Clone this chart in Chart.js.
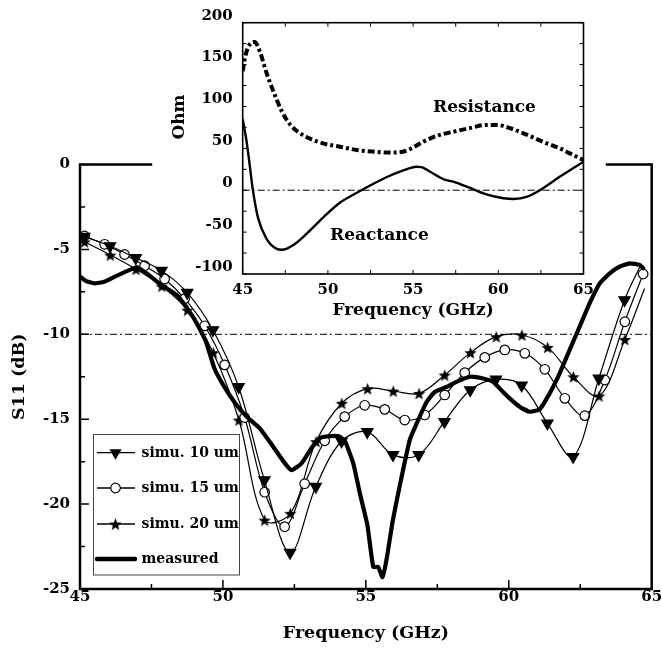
<!DOCTYPE html>
<html><head><meta charset="utf-8">
<script src="https://cdn.jsdelivr.net/npm/chart.js@4.4.1/dist/chart.umd.min.js"></script>
<style>
html,body{margin:0;padding:0;background:#fff;}
#wrap{position:relative;width:662px;height:650px;}
.layer{position:absolute;left:0;top:0;width:662px;height:650px;}
</style></head><body>
<div id="wrap">
<div class="layer"><canvas id="main" width="662" height="650"></canvas></div>
<div class="layer"><canvas id="inset" width="662" height="650"></canvas></div>
</div>
<script>
// ---------------- main chart data (S11, dB) ----------------
const freq10 = [45.15,46.05,46.95,47.85,48.75,49.65,50.55,51.45,52.35,53.25,54.15,55.05,55.95,56.85,57.75,58.65,59.55,60.45,61.35,62.25,63.15,64.05,64.62];
const s11_10 = [-4.25,-4.8,-5.5,-6.25,-7.55,-9.75,-13.1,-18.58,-22.86,-18.97,-16.3,-15.75,-17.1,-17.1,-15.15,-13.28,-12.65,-13.0,-15.24,-17.21,-12.6,-7.98,-5.9];
const freq15 = [45.16,45.86,46.56,47.26,47.96,48.66,49.36,50.06,50.76,51.46,52.16,52.86,53.56,54.26,54.96,55.66,56.36,57.06,57.76,58.46,59.16,59.86,60.56,61.26,61.96,62.66,63.36,64.06,64.7];
const s11_15 = [-4.21,-4.7,-5.3,-5.96,-6.74,-7.9,-9.5,-11.8,-14.9,-19.3,-21.33,-18.8,-16.27,-14.85,-14.18,-14.42,-15.05,-14.75,-13.57,-12.26,-11.36,-10.92,-11.12,-12.06,-13.77,-14.79,-12.69,-9.26,-6.45];
const freq20 = [45.16,46.06,46.96,47.86,48.76,49.66,50.56,51.46,52.36,53.26,54.16,55.06,55.96,56.86,57.76,58.66,59.56,60.46,61.36,62.26,63.16,64.06,64.75];
const s11_20 = [-4.55,-5.33,-6.17,-7.16,-8.57,-11.08,-15.05,-20.94,-20.54,-16.32,-14.06,-13.2,-13.34,-13.48,-12.4,-11.08,-10.14,-10.04,-10.77,-12.5,-13.63,-10.3,-7.3];
const freqMeas = [45.0,45.2,45.5,45.85,46.2,46.55,47.0,47.4,47.85,48.4,49.0,49.4,49.7,50.05,50.45,50.83,51.29,51.76,52.17,52.4,52.75,53.1,53.4,53.75,54.05,54.27,54.56,54.79,55.05,55.26,55.43,55.58,55.72,55.95,56.25,56.54,56.83,57.12,57.41,57.82,58.17,58.64,59.1,59.45,59.8,60.05,60.38,60.73,61.08,61.43,61.78,62.13,62.48,62.83,63.18,63.53,63.88,64.23,64.58,64.7];
const s11Meas = [-6.6,-6.85,-7.0,-6.9,-6.62,-6.35,-6.05,-6.5,-7.1,-7.7,-9.1,-10.4,-12.0,-13.1,-14.1,-14.85,-15.54,-16.62,-17.6,-18.0,-17.6,-16.7,-16.1,-16.0,-16.0,-16.3,-17.6,-19.36,-21.2,-23.7,-23.7,-24.3,-23.3,-20.9,-18.4,-16.2,-15.05,-14.0,-13.4,-13.1,-12.8,-12.5,-12.6,-12.8,-13.4,-13.8,-14.26,-14.56,-14.42,-13.48,-12.3,-10.92,-9.55,-8.17,-7.0,-6.41,-6.02,-5.82,-5.92,-6.11];
const refLevel = -10;
const legendLabels = ['simu. 10 um','simu. 15 um','simu. 20 um','measured'];
const mainXTicks = {min:45, max:65, step:2.5, labelEvery:5};
const mainYTicks = {min:-25, max:0, step:2.5, labelEvery:5};

// ---------------- inset data (Ohm) ----------------
const freqRes = [45.0,45.15,45.45,45.7,46.0,46.4,46.8,47.3,47.8,48.3,48.8,49.7,50.7,51.7,52.7,53.6,54.4,55.0,55.6,56.4,57.4,58.3,59.3,59.9,60.7,61.7,62.6,63.6,64.2,65.0];
const resistance = [142,160,175,177,166,140,118,94,78,69,63,56,52,48,46,45,46,51,58,65,70,74,78,78,74,66,58,50,44,36];
const freqReact = [45.0,45.2,45.35,45.6,45.9,46.4,47.0,47.3,48.0,48.8,49.7,50.7,51.7,52.7,53.6,54.6,55.2,55.5,56.0,56.8,57.4,58.3,59.3,60.3,60.9,61.7,62.6,63.6,65.0];
const reactance = [85,62,40,0,-33,-58,-70,-71,-65,-51,-33,-15,-3,8,17,25,28,27.5,22,13,10,3,-5,-9.5,-10.4,-7.6,2,16,34];
const insetZero = 0;
const insetXTicks = {min:45, max:65, step:2.5, labelEvery:5};
const insetYTicks = {min:-100, max:200, step:25, labelEvery:50};

// ---------------- helpers ----------------
const FONT = '"DejaVu Serif", serif';
const pts = (xs, ys) => xs.map((x, i) => ({x, y: ys[i]}));
const isMajor = (v, every) => Math.abs(v / every - Math.round(v / every)) < 1e-6;

function starCanvas(size) {
  const c = document.createElement('canvas');
  c.width = c.height = size;
  const g = c.getContext('2d');
  const cx = size / 2, cy = size / 2 + 0.8, R = size / 2, r = R * 0.42;
  g.beginPath();
  for (let i = 0; i < 10; i++) {
    const a = -Math.PI / 2 + i * Math.PI / 5, rr = i % 2 ? r : R;
    g.lineTo(cx + rr * Math.cos(a), cy + rr * Math.sin(a));
  }
  g.closePath(); g.fillStyle = '#000'; g.fill();
  return c;
}
const STAR = starCanvas(13);

function drawTri(ctx, x, y, r) {
  ctx.beginPath();
  ctx.moveTo(x - r * 0.866, y - r * 0.5);
  ctx.lineTo(x + r * 0.866, y - r * 0.5);
  ctx.lineTo(x, y + r);
  ctx.closePath(); ctx.fillStyle = '#000'; ctx.fill();
}

// ---------------- main chart plugins ----------------
const mainDecor = {
  id: 'mainDecor',
  afterDraw(chart) {
    const ctx = chart.ctx, a = chart.chartArea;
    const xs = chart.scales.x, ys = chart.scales.y;
    ctx.save();
    ctx.strokeStyle = '#000';
    ctx.lineWidth = 1.5;
    // inward ticks
    ctx.beginPath();
    xs.ticks.forEach(t => {
      const p = xs.getPixelForValue(t.value);
      const L = isMajor(t.value, mainXTicks.labelEvery) ? 9 : 5;
      ctx.moveTo(p, a.bottom); ctx.lineTo(p, a.bottom - L);
    });
    ys.ticks.forEach(t => {
      const p = ys.getPixelForValue(t.value);
      const L = isMajor(t.value, mainYTicks.labelEvery) ? 9 : 5;
      ctx.moveTo(a.left, p); ctx.lineTo(a.left + L, p);
    });
    ctx.stroke();
    // frame (top edge interrupted by the inset)
    ctx.lineWidth = 2.5;
    ctx.lineCap = 'square';
    ctx.beginPath();
    ctx.moveTo(151, a.top); ctx.lineTo(a.left, a.top); ctx.lineTo(a.left, a.bottom);
    ctx.lineTo(a.right, a.bottom); ctx.lineTo(a.right, a.top); ctx.lineTo(607, a.top);
    ctx.stroke();
    // legend
    const bx = 93.5, by = 434.5, bw = 146, bh = 140.5;
    ctx.fillStyle = '#fff';
    ctx.fillRect(bx, by, bw, bh);
    ctx.lineWidth = 1; ctx.strokeStyle = '#444';
    ctx.strokeRect(bx, by, bw, bh);
    const rowsY = [452.7, 488, 524, 559];
    ctx.font = 'bold 14px ' + FONT;
    ctx.textBaseline = 'middle';
    ctx.textAlign = 'left';
    legendLabels.forEach((lab, i) => {
      const y = rowsY[i];
      ctx.strokeStyle = '#000';
      ctx.lineWidth = i === 3 ? 4.5 : 1.3;
      ctx.lineCap = i === 3 ? 'round' : 'butt';
      ctx.beginPath(); ctx.moveTo(97, y); ctx.lineTo(135, y); ctx.stroke();
      if (i === 0) drawTri(ctx, 115.5, y, 7);
      if (i === 1) { ctx.beginPath(); ctx.arc(115.5, y, 4.8, 0, Math.PI * 2); ctx.fillStyle = '#fff'; ctx.fill(); ctx.lineWidth = 1.2; ctx.stroke(); }
      if (i === 2) ctx.drawImage(STAR, 115.5 - 6.5, y - 6.5);
      ctx.fillStyle = '#000';
      ctx.fillText(lab, 141.5, y + 0.5);
    });
    ctx.restore();
  }
};

const simLine = (data, extra) => Object.assign({
  data, borderColor: '#000', borderWidth: 1.2, tension: 0.35, fill: false,
  pointBorderColor: '#000', pointBorderWidth: 1.2, pointHoverRadius: 0
}, extra);

const tickFont = {family: FONT, size: 15, weight: 'bold'};

new Chart(document.getElementById('main'), {
  type: 'line',
  data: {
    datasets: [
      {data: [{x: 45, y: refLevel}, {x: 65, y: refLevel}], borderColor: '#000', borderWidth: 1, borderDash: [7, 3, 2, 3], pointRadius: 0, tension: 0},
      {data: pts(freqMeas, s11Meas), borderColor: '#000', borderWidth: 4.2, pointRadius: 0, tension: 0.15, borderJoinStyle: 'round', borderCapStyle: 'round'},
      simLine(pts(freq10, s11_10), {pointStyle: 'triangle', rotation: 180, pointBackgroundColor: '#000',
        pointRadius: c => c.dataIndex === freq10.length - 1 ? 0 : 6.5}),
      simLine(pts(freq15, s11_15), {pointStyle: 'circle', pointBackgroundColor: '#fff', pointRadius: 4.8}),
      simLine(pts(freq20, s11_20), {pointStyle: STAR,
        pointRadius: c => c.dataIndex === freq20.length - 1 ? 0 : 6})
    ]
  },
  options: {
    responsive: false, animation: false, events: [],
    layout: {padding: {left: 0, right: 10.3, top: 164.5, bottom: 0}},
    plugins: {legend: {display: false}, tooltip: {enabled: false}},
    scales: {
      x: {
        type: 'linear', min: mainXTicks.min, max: mainXTicks.max,
        afterFit: s => { s.height = 61; },
        grid: {display: false, drawTicks: false}, border: {display: false},
        ticks: {stepSize: mainXTicks.step, autoSkip: false, maxRotation: 0, padding: -1, color: '#000', font: tickFont,
          callback: v => isMajor(v, mainXTicks.labelEvery) ? String(v) : ''},
        title: {display: true, text: 'Frequency (GHz)', color: '#000', font: {family: FONT, size: 17.5, weight: 'bold'}, padding: {top: 0, bottom: 6}}
      },
      y: {
        min: mainYTicks.min, max: mainYTicks.max,
        afterFit: s => { s.width = 80; },
        grid: {display: false, drawTicks: false}, border: {display: false},
        ticks: {stepSize: mainYTicks.step, autoSkip: false, padding: 10, color: '#000', font: tickFont,
          callback: v => isMajor(v, mainYTicks.labelEvery) ? String(v) : ''},
        title: {display: true, text: 'S11 (dB)', color: '#000', font: {family: FONT, size: 17.5, weight: 'bold'}, padding: {top: 9, bottom: 0}}
      }
    }
  },
  plugins: [mainDecor]
});

// ---------------- inset ----------------
const insetDecor = {
  id: 'insetDecor',
  afterDraw(chart) {
    const ctx = chart.ctx, a = chart.chartArea;
    const xs = chart.scales.x, ys = chart.scales.y;
    ctx.save();
    ctx.strokeStyle = '#000';
    ctx.lineWidth = 1;
    ctx.beginPath();
    xs.ticks.forEach(t => {
      const p = xs.getPixelForValue(t.value);
      ctx.moveTo(p, a.bottom); ctx.lineTo(p, a.bottom - 4);
      ctx.moveTo(p, a.top); ctx.lineTo(p, a.top + 4);
    });
    ys.ticks.forEach(t => {
      const p = ys.getPixelForValue(t.value);
      ctx.moveTo(a.left, p); ctx.lineTo(a.left + 4, p);
      ctx.moveTo(a.right, p); ctx.lineTo(a.right - 4, p);
    });
    ctx.stroke();
    ctx.lineWidth = 1.6;
    ctx.strokeRect(a.left, a.top, a.right - a.left, a.bottom - a.top);
    ctx.fillStyle = '#000';
    ctx.font = 'bold 17px ' + FONT;
    ctx.textBaseline = 'alphabetic';
    ctx.textAlign = 'left';
    ctx.fillText('Resistance', 433, 112);
    ctx.fillText('Reactance', 330, 240);
    ctx.translate(180, 117);
    ctx.rotate(-Math.PI / 2);
    ctx.textAlign = 'center';
    ctx.textBaseline = 'middle';
    ctx.fillText('Ohm', 0, 0);
    ctx.restore();
  }
};

new Chart(document.getElementById('inset'), {
  type: 'line',
  data: {
    datasets: [
      {data: [{x: 45, y: insetZero}, {x: 65, y: insetZero}], borderColor: '#000', borderWidth: 1, borderDash: [7, 3, 2, 3], pointRadius: 0, tension: 0},
      {data: pts(freqRes, resistance), borderColor: '#000', borderWidth: 4, borderDash: [7, 3, 3, 3], borderCapStyle: 'butt', pointRadius: 0, tension: 0.4, cubicInterpolationMode: 'monotone'},
      {data: pts(freqReact, reactance), borderColor: '#000', borderWidth: 2.4, pointRadius: 0, tension: 0.4, cubicInterpolationMode: 'monotone'}
    ]
  },
  options: {
    responsive: false, animation: false, events: [],
    layout: {padding: {left: 150, right: 78.5, top: 22.7, bottom: 326}},
    plugins: {legend: {display: false}, tooltip: {enabled: false}},
    scales: {
      x: {
        type: 'linear', min: insetXTicks.min, max: insetXTicks.max,
        afterFit: s => { s.height = 50; },
        grid: {display: false, drawTicks: false}, border: {display: false},
        ticks: {stepSize: insetXTicks.step, autoSkip: false, maxRotation: 0, padding: 7, color: '#000', font: tickFont,
          callback: v => isMajor(v, insetXTicks.labelEvery) ? String(v) : ''},
        title: {display: true, text: 'Frequency (GHz)', color: '#000', font: {family: FONT, size: 17, weight: 'bold'}, padding: {top: 0, bottom: 3}}
      },
      y: {
        min: insetYTicks.min, max: insetYTicks.max,
        afterFit: s => { s.width = 92.7; },
        grid: {display: false, drawTicks: false}, border: {display: false},
        ticks: {stepSize: insetYTicks.step, autoSkip: false, padding: 10, labelOffset: -7, color: '#000', font: tickFont,
          callback: v => isMajor(v, insetYTicks.labelEvery) ? String(v) : ''}
      }
    }
  },
  plugins: [insetDecor]
});
</script>
</body></html>
